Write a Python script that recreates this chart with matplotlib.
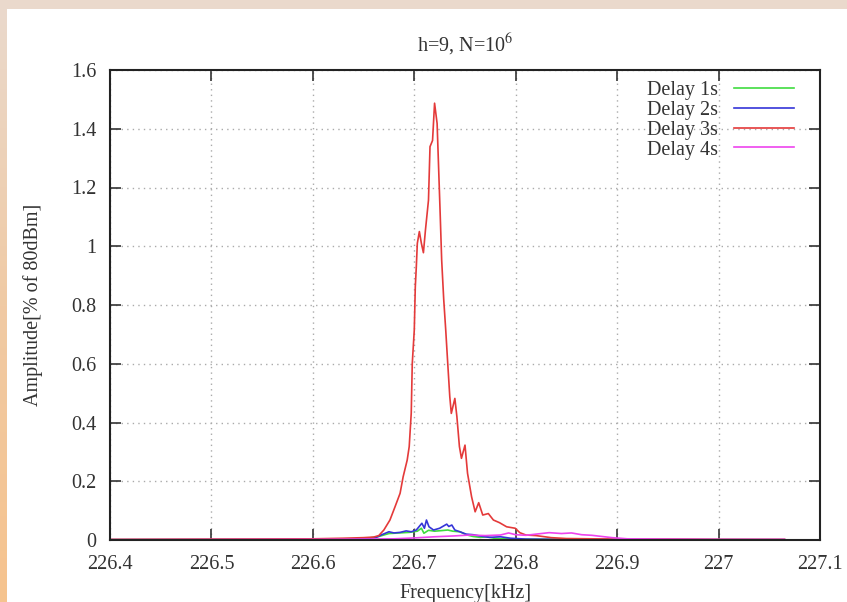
import matplotlib
matplotlib.use('Agg')

import numpy as np
import matplotlib.pyplot as plt
from matplotlib.patches import Rectangle

# Delay 1s
freq_1s = [226.40, 226.60, 226.65, 226.665, 226.675, 226.685, 226.695, 226.703, 226.707, 226.7095,
           226.714, 226.72, 226.727, 226.733, 226.738, 226.745, 226.752, 226.758, 226.765, 226.772,
           226.78, 226.79, 226.80, 226.85, 227.065]
amp_1s = [0.001, 0.002, 0.004, 0.012, 0.022, 0.024, 0.026, 0.030, 0.040, 0.023,
          0.033, 0.030, 0.032, 0.034, 0.030, 0.028, 0.017, 0.012, 0.009, 0.011,
          0.005, 0.004, 0.003, 0.002, 0.001]

# Delay 2s
freq_2s = [226.40, 226.55, 226.62, 226.65, 226.662, 226.668, 226.675, 226.68, 226.686, 226.692,
           226.697, 226.702, 226.7075, 226.710, 226.712, 226.7145, 226.719, 226.725, 226.732, 226.734,
           226.737, 226.740, 226.745, 226.751, 226.758, 226.764, 226.774, 226.785, 226.795, 226.81,
           226.85, 226.95, 227.065]
amp_2s = [0.001, 0.001, 0.002, 0.004, 0.008, 0.018, 0.028, 0.024, 0.026, 0.031,
          0.028, 0.034, 0.057, 0.040, 0.068, 0.045, 0.034, 0.040, 0.054, 0.046,
          0.051, 0.034, 0.028, 0.020, 0.018, 0.014, 0.009, 0.011, 0.006, 0.003,
          0.002, 0.001, 0.001]

# Delay 3s
freq_3s = [226.40, 226.50, 226.60, 226.63, 226.65, 226.66, 226.665, 226.670, 226.676, 226.681,
           226.686, 226.689, 226.693, 226.695, 226.697, 226.698, 226.700, 226.701, 226.702, 226.703,
           226.705, 226.707, 226.709, 226.711, 226.714, 226.7155, 226.718, 226.720, 226.7225, 226.7255,
           226.727, 226.729, 226.731, 226.733, 226.735, 226.7365, 226.740, 226.742, 226.7445, 226.7465,
           226.750, 226.7525, 226.7565, 226.760, 226.7635, 226.7675, 226.773, 226.778, 226.784, 226.791,
           226.7995, 226.804, 226.81, 226.82, 226.835, 226.85, 226.90, 226.95, 227.00, 227.065]
amp_3s = [0.002, 0.003, 0.004, 0.006, 0.008, 0.010, 0.015, 0.034, 0.068, 0.113,
          0.159, 0.215, 0.272, 0.318, 0.432, 0.60, 0.715, 0.862, 0.93, 1.01,
          1.05, 1.01, 0.978, 1.055, 1.157, 1.339, 1.36, 1.487, 1.418, 1.113,
          0.953, 0.82, 0.715, 0.60, 0.488, 0.431, 0.482, 0.42, 0.318, 0.278,
          0.323, 0.227, 0.147, 0.096, 0.127, 0.085, 0.09, 0.068, 0.059, 0.045,
          0.040, 0.025, 0.017, 0.015, 0.008, 0.005, 0.003, 0.003, 0.002, 0.002]

# Delay 4s
freq_4s = [226.40, 226.60, 226.68, 226.70, 226.72, 226.74, 226.755, 226.77, 226.785, 226.793,
           226.80, 226.81, 226.82, 226.833, 226.845, 226.855, 226.865, 226.875, 226.885, 226.895,
           226.91, 226.95, 227.00, 227.065]
amp_4s = [0.001, 0.002, 0.004, 0.007, 0.011, 0.014, 0.017, 0.015, 0.017, 0.024,
          0.018, 0.016, 0.020, 0.025, 0.022, 0.024, 0.018, 0.016, 0.012, 0.008,
          0.004, 0.003, 0.002, 0.002]

x_ticks = [226.4, 226.5, 226.6, 226.7, 226.8, 226.9, 227.0, 227.1]
x_tick_labels = ['226.4', '226.5', '226.6', '226.7', '226.8', '226.9', '227', '227.1']
y_ticks = [0, 0.2, 0.4, 0.6, 0.8, 1.0, 1.2, 1.4, 1.6]
y_tick_labels = ['0', '0.2', '0.4', '0.6', '0.8', '1', '1.2', '1.4', '1.6']

plt.rcParams['font.family'] = ['Liberation Serif', 'DejaVu Serif']
plt.rcParams['mathtext.fontset'] = 'stix'
FS = 14.5
TXT = '#333333'

W, H = 847, 602
fig = plt.figure(figsize=(W / 100, H / 100), dpi=100, facecolor='white')

# slide decoration: beige band on top, gradient strip on the left
fig.patches.append(Rectangle((0, 1 - 9 / H), 1, 9 / H, transform=fig.transFigure,
                             facecolor='#ead9cc', edgecolor='none', zorder=0))
strip = fig.add_axes([0, 0, 6 / W, 1 - 9 / H])
grad = np.linspace(0, 1, 256).reshape(-1, 1)
cmap = matplotlib.colors.LinearSegmentedColormap.from_list('strip', ['#ead9cc', '#f0caa4', '#f6c38e'])
strip.imshow(grad, aspect='auto', cmap=cmap, origin='upper')
strip.axis('off')

ax = fig.add_axes([110 / W, 1 - 540 / H, 710 / W, 470 / H])

ax.plot(freq_1s, amp_1s, color='#3fdc3f', lw=1.2, label='Delay 1s')
ax.plot(freq_2s, amp_2s, color='#3535d8', lw=1.2, label='Delay 2s')
ax.plot(freq_3s, amp_3s, color='#e43a3a', lw=1.2, label='Delay 3s')
ax.plot(freq_4s, amp_4s, color='#ee44ee', lw=1.2, label='Delay 4s')

ax.set_xlim(226.4, 227.1)
ax.set_ylim(0, 1.6)
ax.set_xticks(x_ticks)
ax.set_xticklabels(x_tick_labels)
ax.set_yticks(y_ticks)
ax.set_yticklabels(y_tick_labels)
ax.tick_params(direction='in', length=8, width=1.2, labelsize=FS, colors=TXT,
               top=True, right=True)
ax.tick_params(axis='y', pad=10)
ax.tick_params(axis='x', pad=11)
for s in ax.spines.values():
    s.set_linewidth(1.5)
    s.set_color('#222222')
ax.grid(True, color='#aaaaaa', linestyle=(0, (1, 3)), linewidth=1.0)

ax.set_title('h=9, N=10$^{6}$', fontsize=FS, color=TXT, pad=13)
ax.set_xlabel('Frequency[kHz]', fontsize=FS, color=TXT, labelpad=7)
ax.set_ylabel('Amplitude[% of 80dBm]', fontsize=FS, color=TXT, labelpad=20)

leg = ax.legend(loc='upper right', bbox_to_anchor=(0.975, 0.993), borderaxespad=0,
                frameon=False, markerfirst=False, fontsize=FS,
                handlelength=3.0, handletextpad=0.8, labelspacing=0.03)
for t in leg.get_texts():
    t.set_color(TXT)

fig.savefig('out.png', dpi=100, facecolor=fig.get_facecolor())
